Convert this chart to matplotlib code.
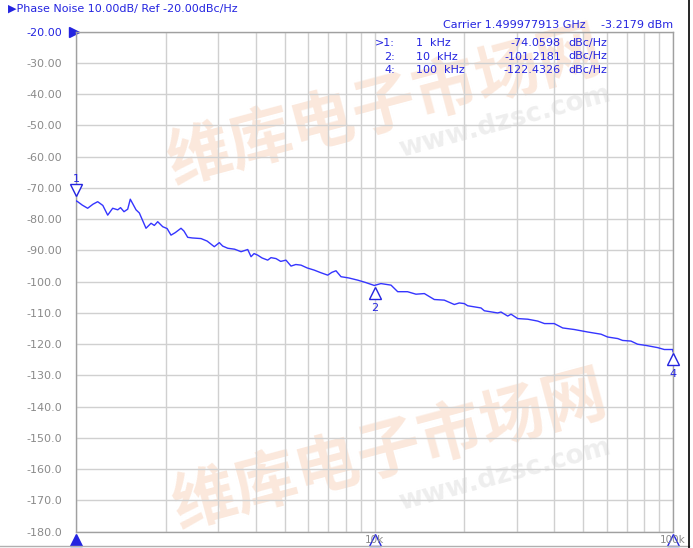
import matplotlib
matplotlib.use('Agg')
import matplotlib.pyplot as plt
import matplotlib.transforms as mtransforms
from matplotlib.lines import Line2D

# trace (kHz, dBc/Hz)
freq_khz = [1.000, 1.013, 1.05, 1.094, 1.14, 1.182, 1.23, 1.277, 1.327, 1.380,
            1.41, 1.448, 1.49, 1.520, 1.589, 1.63, 1.716, 1.784, 1.83, 1.878,
            1.952, 2.02, 2.081, 2.15, 2.248, 2.30, 2.367, 2.45, 2.624, 2.75,
            2.906, 3.021, 3.10, 3.224, 3.40, 3.572, 3.761, 3.858, 3.95, 4.061,
            4.20, 4.387, 4.50, 4.677, 4.85, 5.052, 5.252, 5.45, 5.673, 5.95,
            6.284, 6.60, 6.969, 7.20, 7.430, 7.723, 8.2, 8.785, 9.3, 9.98,
            10.51, 11.36, 11.96, 12.9, 13.77, 14.69, 15.86, 17.13, 18.51, 19.23,
            19.99, 20.52, 22.74, 23.33, 25.86, 26.53, 27.94, 28.67, 30.18, 32.6,
            33.9, 35.2, 37.1, 40.0, 42.7, 46.7, 51.8, 57.4, 60.4, 65.3,
            67.8, 72.3, 76.1, 81.2, 88.9, 93.5, 99.8, 100.0]
noise_dbc = [-74.1, -74.4, -75.5, -76.5, -75.2, -74.4, -75.6, -78.7, -76.5, -77.0,
             -76.3, -77.6, -76.8, -73.6, -77.0, -78.0, -82.9, -81.3, -82.0, -80.8,
             -82.4, -83.0, -85.1, -84.3, -82.9, -83.8, -85.8, -86.0, -86.2, -87.0,
             -88.8, -87.5, -88.6, -89.3, -89.6, -90.4, -89.7, -92.0, -91.0, -91.5,
             -92.4, -93.1, -92.3, -92.6, -93.5, -93.1, -95.0, -94.5, -94.7, -95.6,
             -96.3, -97.1, -97.9, -97.0, -96.5, -98.4, -98.8, -99.5, -100.2, -101.2,
             -100.6, -101.1, -103.2, -103.2, -104.0, -103.8, -105.7, -105.9, -107.3, -106.8,
             -107.0, -107.7, -108.4, -109.3, -110.0, -109.7, -111.0, -110.4, -111.8, -112.0,
             -112.3, -112.6, -113.4, -113.4, -114.8, -115.3, -116.1, -116.8, -117.7, -118.2,
             -118.8, -119.0, -120.0, -120.4, -121.1, -121.7, -121.7, -122.4]

ytick_vals = [-20, -30, -40, -50, -60, -70, -80, -90, -100, -110,
              -120, -130, -140, -150, -160, -170, -180]
ytick_labels = ['-20.00', '-30.00', '-40.00', '-50.00', '-60.00', '-70.00',
                '-80.00', '-90.00', '-100.0', '-110.0', '-120.0', '-130.0',
                '-140.0', '-150.0', '-160.0', '-170.0', '-180.0']

marker_ids = ['1', '2', '4']
marker_freq = [1, 10, 100]
marker_vals = [-74.0598, -101.2181, -122.4326]
marker_prefix = ['>1:', '2:', '4:']
marker_freq_txt = ['1  kHz', '10  kHz', '100  kHz']
marker_val_txt = ['-74.0598', '-101.2181', '-122.4326']

xlabels_freq = [10, 100]
xlabels_txt = ['10k', '100k']

blue = '#2424e0'
trace_blue = '#3535ff'
gray = '#8a8a8a'

W, H = 693, 548
fig = plt.figure(figsize=(W / 100, H / 100), dpi=100)
fig.patch.set_facecolor('white')

def fx(px):
    return px / W

def fy(py):
    return 1 - py / H

# watermark (faint)
for cx, cy, ux, uy in [(385, 108, 505, 122), (390, 452, 505, 475)]:
    fig.text(fx(cx), fy(cy), '维库电子市场网', fontsize=46, fontweight='bold',
             family=['Noto Sans CJK SC', 'DejaVu Sans'], color='#fbe8dc',
             rotation=15, ha='center', va='center', zorder=-2)
    fig.text(fx(ux), fy(uy), 'www.dzsc.com', fontsize=19, fontweight='bold',
             color='#eeeeee', rotation=15, ha='center', va='center', zorder=-2)

ax = fig.add_axes([fx(76), fy(531.7), (673 - 76) / W, 500 / H])
ax.patch.set_visible(False)
ax.set_xscale('log')
ax.set_xlim(1, 100)
ax.set_ylim(-180, -20)

minor = [m * d for d in (1, 10) for m in range(2, 10)]
ax.set_xticks([1, 10, 100])
ax.set_xticks(minor, minor=True)
ax.set_xticklabels([])
ax.set_xticklabels([], minor=True)
ax.set_yticks(ytick_vals)
ax.set_yticklabels(ytick_labels)
ax.tick_params(axis='both', which='both', length=0)
ax.tick_params(axis='y', pad=10, labelsize=8, labelcolor=gray)
ax.get_yticklabels()[0].set_color(blue)
ax.grid(True, which='both', color='#d0d0d0', lw=1)
ax.set_axisbelow(True)
for s in ax.spines.values():
    s.set_color('#a0a0a0')
    s.set_linewidth(1)

ax.plot(freq_khz, noise_dbc, color=trace_blue, lw=1, zorder=3)

# markers on the trace
for i, (f, v, lab) in enumerate(zip(marker_freq, marker_vals, marker_ids)):
    if i == 0:
        tr = mtransforms.offset_copy(ax.transData, fig=fig, x=0, y=11, units='dots')
        ax.plot([f], [v], marker='v', ms=8, mfc='white', mec=blue, mew=1,
                transform=tr, clip_on=False, zorder=4)
        ax.text(f, v, lab, transform=mtransforms.offset_copy(ax.transData, fig=fig, x=0, y=22, units='dots'),
                color=blue, fontsize=8, ha='center', va='center', clip_on=False)
    else:
        tr = mtransforms.offset_copy(ax.transData, fig=fig, x=0, y=-7, units='dots')
        ax.plot([f], [v], marker='^', ms=8, mfc='white', mec=blue, mew=1,
                transform=tr, clip_on=False, zorder=4)
        ax.text(f, v, lab, transform=mtransforms.offset_copy(ax.transData, fig=fig, x=0, y=-22, units='dots'),
                color=blue, fontsize=8, ha='center', va='center', clip_on=False)

# x labels under the axis with stimulus markers
bot = mtransforms.blended_transform_factory(ax.transData, ax.transAxes)
for f, t in zip(xlabels_freq, xlabels_txt):
    ax.text(f, -0.017, t, transform=bot, color=gray, fontsize=7.5,
            ha='center', va='center', clip_on=False)
    ax.plot([f], [-0.017], marker='^', ms=8, mfc='none', mec=blue, mew=1,
            transform=bot, clip_on=False)
ax.plot([1], [-0.017], marker='^', ms=8, color=blue, transform=bot, clip_on=False)

# reference level marker
ax.plot([0.982], [-20], marker='>', ms=7, color=blue, clip_on=False)

# header texts
fig.text(fx(8), fy(9), '\u25b6Phase Noise 10.00dB/ Ref -20.00dBc/Hz', color=blue,
         fontsize=8, ha='left', va='center')
fig.text(fx(443), fy(25), 'Carrier 1.499977913 GHz', color=blue, fontsize=8,
         ha='left', va='center')
fig.text(fx(673), fy(25), '-3.2179 dBm', color=blue, fontsize=8,
         ha='right', va='center')
for k, y in enumerate([43, 56.5, 70]):
    fig.text(fx(395), fy(y), marker_prefix[k], color=blue, fontsize=8, ha='right', va='center')
    fig.text(fx(416), fy(y), marker_freq_txt[k], color=blue, fontsize=8, ha='left', va='center')
    fig.text(fx(561), fy(y), marker_val_txt[k], color=blue, fontsize=8, ha='right', va='center')
    fig.text(fx(568), fy(y), 'dBc/Hz', color=blue, fontsize=8, ha='left', va='center')

# frame lines of the window
fig.add_artist(Line2D([0, fx(689)], [fy(546), fy(546)], color='#b0b0b0', lw=1))
fig.add_artist(Line2D([fx(689), fx(689)], [0, 1], color='black', lw=1.2))

fig.savefig('out.png', dpi=100)
